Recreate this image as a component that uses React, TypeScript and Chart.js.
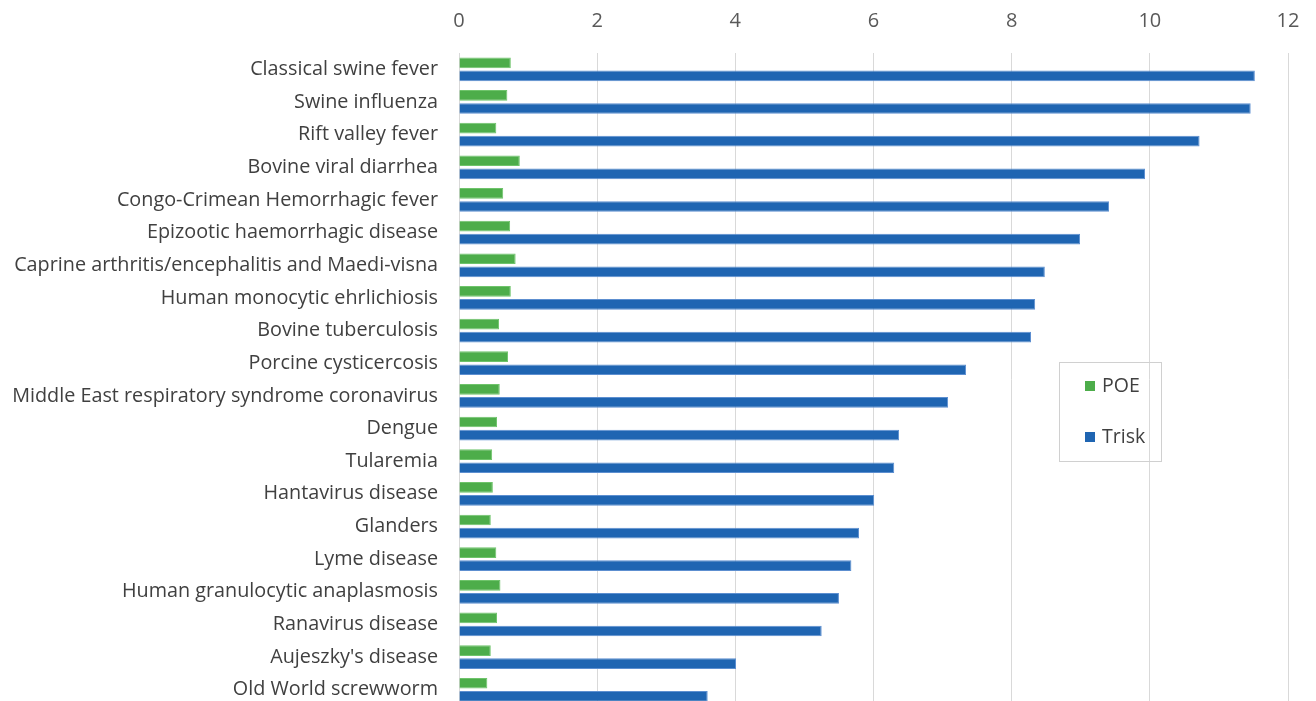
import React, { useEffect, useRef } from "react";
import { Chart, registerables } from "chart.js";

Chart.register(...registerables);

const categories = [
  "Classical swine fever",
  "Swine influenza",
  "Rift valley fever",
  "Bovine viral diarrhea",
  "Congo-Crimean Hemorrhagic fever",
  "Epizootic haemorrhagic disease",
  "Caprine arthritis/encephalitis and Maedi-visna",
  "Human monocytic ehrlichiosis",
  "Bovine tuberculosis",
  "Porcine cysticercosis",
  "Middle East respiratory syndrome coronavirus",
  "Dengue",
  "Tularemia",
  "Hantavirus disease",
  "Glanders",
  "Lyme disease",
  "Human granulocytic anaplasmosis",
  "Ranavirus disease",
  "Aujeszky's disease",
  "Old World screwworm",
];

const poeValues = [
  0.75, 0.7, 0.54, 0.88, 0.64, 0.74, 0.82, 0.75, 0.58, 0.71,
  0.59, 0.55, 0.48, 0.49, 0.46, 0.54, 0.6, 0.55, 0.46, 0.41,
];

const triskValues = [
  11.52, 11.46, 10.72, 9.93, 9.41, 8.99, 8.48, 8.34, 8.28, 7.34,
  7.08, 6.37, 6.3, 6.01, 5.79, 5.68, 5.5, 5.25, 4.01, 3.6,
];

const seriesNames = ["POE", "Trisk"];
const seriesColors = ["#4dad4a", "#1f65b2"];
const xTicks = [0, 2, 4, 6, 8, 10, 12];

const FONT = "'Open Sans', Lato, sans-serif";

const legendPlugin = {
  id: "boxLegend",
  beforeDraw(chart: any) {
    try {
      chart.ctx.textRendering = "optimizeSpeed";
    } catch (e) {}
  },
  afterDraw(chart: any) {
    const ctx = chart.ctx;
    const x0 = 1059;
    const y0 = 362;
    ctx.save();
    ctx.strokeStyle = "#d0d0d0";
    ctx.lineWidth = 1;
    ctx.strokeRect(x0 + 0.5, y0 + 0.5, 102, 99);
    ctx.font = `19.5px ${FONT}`;
    ctx.textBaseline = "middle";
    ctx.textAlign = "left";
    seriesNames.forEach((name, i) => {
      const cy = y0 + 24 + i * 51;
      ctx.fillStyle = seriesColors[i];
      ctx.fillRect(x0 + 26, cy - 5, 10, 10);
      ctx.fillStyle = "#404040";
      ctx.fillText(name, x0 + 43, cy);
    });
    ctx.restore();
  },
};

export default function App() {
  const ref = useRef<HTMLCanvasElement | null>(null);
  useEffect(() => {
    if (!ref.current) return;
    const chart = new Chart(ref.current, {
      type: "bar",
      data: {
        labels: categories,
        datasets: [
          {
            label: seriesNames[0],
            data: poeValues,
            backgroundColor: seriesColors[0],
            borderColor: "#6fc46b",
            borderWidth: 1,
            barPercentage: 0.82,
            categoryPercentage: 0.8,
          },
          {
            label: seriesNames[1],
            data: triskValues,
            backgroundColor: seriesColors[1],
            borderColor: "#5d8fd0",
            borderWidth: 1,
            barPercentage: 0.82,
            categoryPercentage: 0.8,
          },
        ],
      },
      options: {
        indexAxis: "y",
        animation: false,
        responsive: false,
        maintainAspectRatio: false,
        layout: { padding: { left: 0, right: 28, top: 0, bottom: 4 } },
        plugins: {
          legend: { display: false },
          tooltip: { enabled: false },
        },
        scales: {
          x: {
            position: "top",
            min: 0,
            max: 12,
            afterBuildTicks: (scale: any) => {
              scale.ticks = xTicks.map((v) => ({ value: v }));
            },
            afterFit: (scale: any) => {
              scale.height = 53;
              scale.paddingLeft = 0;
              scale.paddingRight = 0;
            },
            ticks: {
              font: { family: FONT, size: 20 },
              color: "#595959",
              padding: 20,
            },
            grid: { color: "#d9d9d9", drawTicks: false, lineWidth: 1 },
            border: { display: false },
          },
          y: {
            afterFit: (scale: any) => {
              scale.width = 459;
            },
            ticks: {
              font: { family: FONT, size: 19.8 },
              color: "#404040",
              padding: 21,
              autoSkip: false,
            },
            grid: { display: false, drawTicks: false },
            border: { display: true, color: "#d9d9d9" },
          },
        },
      },
      plugins: [legendPlugin],
    });
    return () => chart.destroy();
  }, []);
  return (
    <div style={{ position: "absolute", left: 0, top: 0, width: 1316, height: 739, background: "#fff" }}>
      <canvas ref={ref} width={1316} height={739} style={{ display: "block" }} />
    </div>
  );
}
